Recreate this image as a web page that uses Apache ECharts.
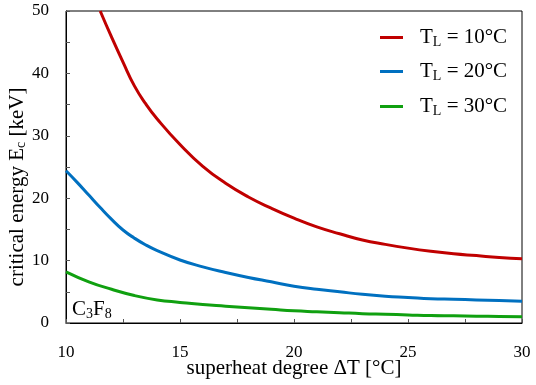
<!DOCTYPE html>
<html>
<head>
<meta charset="utf-8">
<script src="https://cdn.jsdelivr.net/npm/echarts@6/dist/echarts.min.js"></script>
<style>
  html, body { margin: 0; padding: 0; background: #fff; }
  #chart-container { width: 536px; height: 385px; }
</style>
</head>
<body>
<div id="chart-container"></div>
<script>
// Data: [superheat degree, critical energy]
const red10 = [[11.5,50],[12,45.8],[12.5,41.8],[13,38.0],[13.5,35.1],[14,32.7],[15,28.6],[16,25.1],[17,22.4],[18,20.2],[19,18.4],[20,16.8],[21,15.4],[22,14.3],[23,13.3],[24,12.6],[25,12.0],[26,11.5],[27,11.1],[28,10.8],[29,10.5],[30,10.3]];
const blue20 = [[10,24.4],[10.5,22.5],[11,20.5],[11.5,18.5],[12,16.6],[12.5,14.9],[13,13.6],[13.5,12.5],[14,11.6],[15,10.1],[16,9.0],[17,8.1],[18,7.3],[19,6.6],[20,5.9],[21,5.4],[22,5.0],[23,4.6],[24,4.3],[25,4.1],[26,3.9],[27,3.8],[28,3.7],[29,3.6],[30,3.5]];
const green30 = [[10,8.2],[11,6.6],[12,5.4],[13,4.4],[14,3.7],[15,3.3],[16,2.95],[17,2.7],[18,2.45],[19,2.2],[20,1.95],[21,1.8],[22,1.65],[23,1.5],[24,1.4],[25,1.3],[26,1.2],[27,1.15],[28,1.1],[29,1.05],[30,1.0]];
const seriesNames = ['T_L = 10°C', 'T_L = 20°C', 'T_L = 30°C'];
const seriesColors = ['#C00000', '#0070C0', '#10A010'];

const font = 'Liberation Serif';
const subRich = {
    n: { fontFamily: font, fontSize: 21, color: '#000', lineHeight: 24 },
    t: { fontFamily: font, fontSize: 21, color: '#000', lineHeight: 24, padding: [0, 0, 0, 12] },
    s: { fontFamily: font, fontSize: 14, color: '#000', lineHeight: 24, padding: [9, 0, 0, 0] }
};

const container = echarts.init(document.getElementById('chart-container'));

// one legend per series so each row sits where the reference has it
const legendTops = [26, 60, 95];
const legends = seriesNames.map((name, i) => ({
    data: [name],
    left: 380,
    top: legendTops[i],
    padding: 0,
    icon: 'rect',
    itemWidth: 23,
    itemHeight: 3,
    itemGap: 0,
    formatter: () => '{t|T}{s|L}{n| = ' + name.split('= ')[1] + '}',
    textStyle: { rich: subRich }
}));

const mkSeries = (name, data, color) => ({
    name: name,
    type: 'line',
    data: data,
    smooth: true,
    symbol: 'none',
    lineStyle: { color: color, width: 3 },
    itemStyle: { color: color }
});

const cfg = {
    animation: false,
    legend: legends,
    grid: {
        left: 66, right: 14, top: 11, bottom: 62,
        outerBoundsMode: 'none',
        show: true, borderColor: '#000', borderWidth: 1
    },
    xAxis: {
        type: 'value',
        min: 10, max: 30, interval: 2.5,
        axisLine: { lineStyle: { color: '#000', width: 1 } },
        axisTick: { inside: true, length: 4, lineStyle: { color: '#555' } },
        splitLine: { show: false },
        axisLabel: {
            margin: 21,
            fontFamily: font, fontSize: 17, color: '#000',
            formatter: (v) => (v % 5 === 0 ? String(v) : '')
        },
        name: '{n|superheat degree ΔT [°C]}',
        nameLocation: 'middle',
        nameGap: 33,
        nameMoveOverlap: false,
        nameTextStyle: { rich: subRich }
    },
    yAxis: {
        type: 'value',
        min: 0, max: 50, interval: 5,
        axisLine: { show: true, lineStyle: { color: '#000', width: 1 } },
        axisTick: { show: true, inside: true, length: 4, lineStyle: { color: '#555' } },
        splitLine: { show: false },
        axisLabel: {
            margin: 17,
            fontFamily: font, fontSize: 17, color: '#000',
            formatter: (v) => (v % 10 === 0 ? String(v) : '')
        }
    },
    graphic: [{
        // y-axis title sits lower than the plot middle in the reference
        type: 'text',
        x: 17,
        y: 187,
        rotation: Math.PI / 2,
        style: {
            text: '{n|critical energy E}{s|c}{n| [keV]}',
            rich: subRich,
            align: 'center',
            verticalAlign: 'middle'
        }
    }, {
        type: 'text',
        left: 72,
        top: 298,
        style: {
            text: '{n|C}{s|3}{n|F}{s|8}',
            rich: subRich
        }
    }],
    series: [
        mkSeries(seriesNames[0], red10, seriesColors[0]),
        mkSeries(seriesNames[1], blue20, seriesColors[1]),
        mkSeries(seriesNames[2], green30, seriesColors[2])
    ]
};

container.setOption(cfg);
</script>
</body>
</html>
